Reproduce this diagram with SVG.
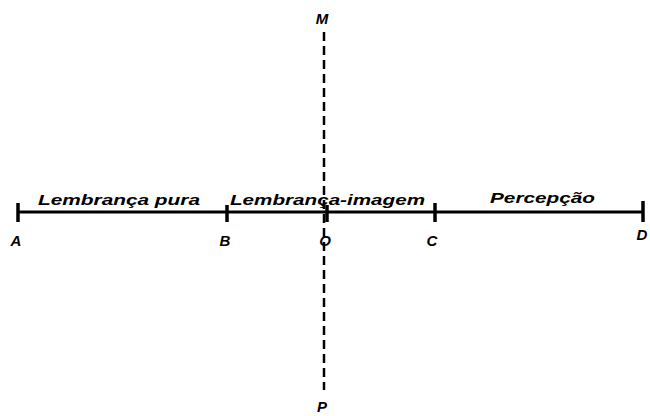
<svg xmlns="http://www.w3.org/2000/svg" width="650" height="416" viewBox="0 0 650 416">
<style>
.t{font-family:"Liberation Sans",Arial,sans-serif;font-style:italic;font-weight:bold;font-size:14px;fill:#000}
.l{font-family:"Liberation Sans",Arial,sans-serif;font-style:italic;font-weight:bold;font-size:15px;fill:#000;text-anchor:middle}
.tick{stroke:#000;stroke-width:3.5}
</style>
<rect width="650" height="416" fill="#fff"/>
<g id="connectors">
<line x1="18" y1="212" x2="644" y2="212" stroke="#000" stroke-width="3"/>
<line x1="324" y1="32" x2="324" y2="390" stroke="#000" stroke-width="2.5" stroke-dasharray="9,5"/>
</g>
<g id="A"><line class="tick" x1="18" y1="203" x2="18" y2="222"/><text class="l" x="16" y="246">A</text></g>
<g id="B"><line class="tick" x1="227" y1="205" x2="227" y2="222"/><text class="l" x="225" y="246">B</text></g>
<g id="O"><line class="tick" x1="327" y1="205" x2="327" y2="222"/><text class="l" x="325" y="246">O</text></g>
<g id="C"><line class="tick" x1="435" y1="203" x2="435" y2="222"/><text class="l" x="432" y="246">C</text></g>
<g id="D"><line class="tick" x1="643" y1="201" x2="643" y2="222"/><text class="l" x="642" y="240">D</text></g>
<g id="M"><text class="l" x="322" y="24">M</text></g>
<g id="P"><text class="l" x="322" y="412">P</text></g>
<g id="labels">
<text class="t" x="38" y="205" textLength="162" lengthAdjust="spacingAndGlyphs">Lembrança pura</text>
<text class="t" x="230" y="205" textLength="195" lengthAdjust="spacingAndGlyphs">Lembrança-imagem</text>
<text class="t" x="490" y="203" textLength="105" lengthAdjust="spacingAndGlyphs">Percepção</text>
</g>
</svg>
